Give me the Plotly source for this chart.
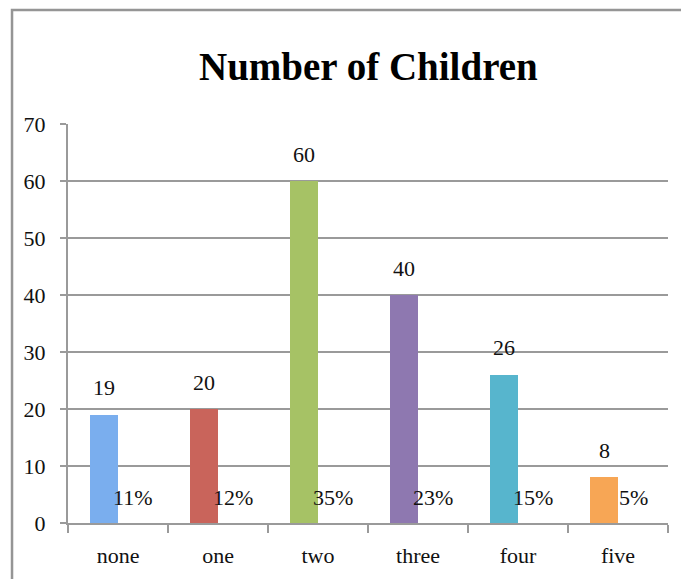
import plotly.graph_objects as go

categories = ["none", "one", "two", "three", "four", "five"]
counts = [19, 20, 60, 40, 26, 8]
percent_labels = ["11%", "12%", "35%", "23%", "15%", "5%"]
bar_colors = ["#7aaeee", "#c9645b", "#a6c265", "#8e78b0", "#57b5cd", "#f7a655"]

FONT = "Liberation Serif"
GRID = "#9a9a9a"
TXT = "#111111"

fig = go.Figure()
fig.add_trace(go.Bar(
    x=categories, y=counts,
    width=0.28, offset=-0.28,
    marker=dict(color=bar_colors, line=dict(width=0)),
    hoverinfo="x+y", showlegend=False,
))

annotations = []
for c, v, p in zip(categories, counts, percent_labels):
    annotations.append(dict(x=c, y=v, xref="x", yref="y", text=str(v), showarrow=False,
                            xanchor="center", yanchor="middle", xshift=-14, yshift=27,
                            font=dict(family=FONT, size=22, color=TXT)))
    annotations.append(dict(x=c, y=0, xref="x", yref="y", text=p, showarrow=False,
                            xanchor="center", yanchor="middle", xshift=15, yshift=26,
                            font=dict(family=FONT, size=22, color=TXT)))

annotations.append(dict(x=0.5, y=1.145, xref="paper", yref="paper", text="<b>Number of Children</b>",
                        showarrow=False, xanchor="center", yanchor="middle",
                        font=dict(family=FONT, size=39, color="#000")))

fig.update_layout(
    width=681, height=579,
    margin=dict(l=68, r=13, t=124, b=56),
    paper_bgcolor="white", plot_bgcolor="white",
    annotations=annotations,
    shapes=[dict(type="path", xref="paper", yref="paper",
                 path="M -0.0933,-0.2 L -0.0933,1.2857 L 1.03,1.2857",
                 line=dict(color="#959595", width=2.5))],
    xaxis=dict(type="category", showline=True, linecolor=GRID, linewidth=2,
               ticks="outside", tickson="boundaries", ticklen=8, tickwidth=2, tickcolor=GRID,
               showgrid=False, tickfont=dict(family=FONT, size=22, color=TXT),
               ticklabelstandoff=12),
    yaxis=dict(range=[0, 70], dtick=10, showline=True, linecolor=GRID, linewidth=2,
               ticks="outside", ticklen=6, tickwidth=2, tickcolor=GRID,
               showgrid=True, gridcolor=GRID, gridwidth=2, zeroline=False,
               tickfont=dict(family=FONT, size=22, color=TXT), ticklabelstandoff=10),
    bargap=0,
)

fig.write_html("out.html", config={"displayModeBar": False},
               post_script="document.body.style.margin='0';")
